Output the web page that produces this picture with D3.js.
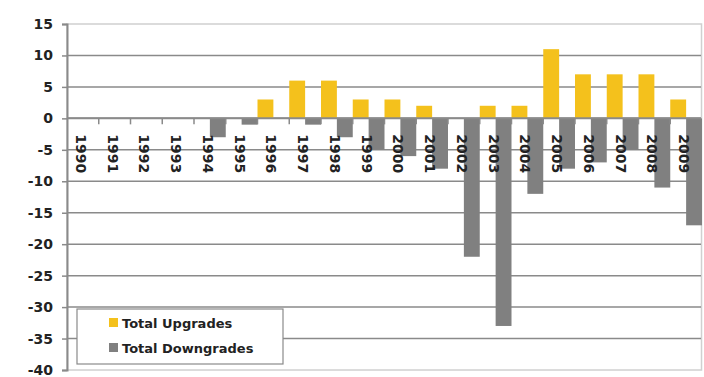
<!DOCTYPE html>
<html><head><meta charset="utf-8">
<script src="https://cdn.jsdelivr.net/npm/d3@7"></script>
<style>body{margin:0;background:#fff;} svg{display:block;}</style>
</head><body>
<script>
const years = ["1990","1991","1992","1993","1994","1995","1996","1997","1998","1999","2000","2001","2002","2003","2004","2005","2006","2007","2008","2009"];
const upgrades   = [0,0,0,0,0,0,3,6,6,3,3,2,0,2,2,11,7,7,7,3];
const downgrades = [0,0,0,0,-3,-1,0,-1,-3,-5,-6,-8,-22,-33,-12,-8,-7,-5,-11,-17];
const seriesNames = ["Total Upgrades","Total Downgrades"];
const seriesColors = ["#F4C11C","#808080"];
const yTicks = [15,10,5,0,-5,-10,-15,-20,-25,-30,-35,-40];

const W = 704, H = 377;
const m = {left:67, right:2, top:24, bottom:7};
const svg = d3.select("body").append("svg").attr("width",W).attr("height",H);
const FONT = "'DejaVu Sans', Verdana, sans-serif";

const x = d3.scaleBand().domain(years).range([m.left, W-m.right]).paddingInner(0).paddingOuter(0);
const xs = d3.scaleBand().domain(seriesNames).range([0, x.bandwidth()]).padding(0);
const y = d3.scaleLinear().domain([-40,15]).range([H-m.bottom, m.top]);

// plot frame
svg.append("rect").attr("x",m.left).attr("y",y(15)).attr("width",W-m.right-m.left-0.5).attr("height",y(-40)-y(15))
  .attr("fill","none").attr("stroke","#d0d0d0").attr("stroke-width",1.5);

// gridlines
svg.append("g").selectAll("line").data(yTicks.filter(t=>t<15 && t>-40)).join("line")
  .attr("x1",m.left).attr("x2",W-m.right-1).attr("y1",d=>y(d)).attr("y2",d=>y(d))
  .attr("stroke","#8a8a8a").attr("stroke-width",1.5);

// bars
const data = years.map((yr,i)=>({yr, vals:[upgrades[i], downgrades[i]]}));
const g = svg.append("g");
data.forEach(d=>{
  d.vals.forEach((v,k)=>{
    if(v===0) return;
    g.append("rect")
      .attr("x", x(d.yr)+xs(seriesNames[k]))
      .attr("width", xs.bandwidth())
      .attr("y", y(Math.max(0,v)))
      .attr("height", Math.abs(y(v)-y(0)))
      .attr("fill", seriesColors[k]);
  });
});

// y axis
const yAxis = d3.axisLeft(y).tickValues(yTicks).tickSize(5).tickFormat(d=>d<0?"-"+Math.abs(d):d);
const ya = svg.append("g").attr("transform",`translate(${m.left},0)`).call(yAxis);
ya.select(".domain").attr("stroke","#8a8a8a").attr("stroke-width",2);
ya.selectAll(".tick line").attr("stroke","#8a8a8a").attr("stroke-width",1.5);
ya.selectAll(".tick text").attr("font-family",FONT).attr("font-weight","bold").attr("font-size",14)
  .attr("fill","#222").attr("x",-14);

// x axis at zero
const xa = svg.append("g").attr("transform",`translate(0,${y(0)})`);
xa.append("line").attr("x1",m.left).attr("x2",W-m.right-1).attr("stroke","#8a8a8a").attr("stroke-width",2);
xa.selectAll("line.tk").data(years.slice(1)).join("line").attr("class","tk")
  .attr("x1",d=>x(d)).attr("x2",d=>x(d)).attr("y1",0).attr("y2",6)
  .attr("stroke","#8a8a8a").attr("stroke-width",1.5);
xa.selectAll("text").data(years).join("text")
  .attr("transform",d=>`translate(${x(d)+x.bandwidth()/2-2},${16}) rotate(90)`)
  .attr("dy","0.35em").attr("text-anchor","start")
  .attr("font-family",FONT).attr("font-weight","bold").attr("font-size",14).attr("fill","#222")
  .text(d=>d);

// legend
const lg = svg.append("g").attr("transform","translate(77,309)");
lg.append("rect").attr("width",206).attr("height",55).attr("fill","#fff").attr("stroke","#8a8a8a").attr("stroke-width",1.2);
seriesNames.forEach((s,i)=>{
  const yy = 14 + i*25;
  lg.append("rect").attr("x",32).attr("y",yy-5).attr("width",9).attr("height",9).attr("fill",seriesColors[i]);
  lg.append("text").attr("x",45).attr("y",yy).attr("dy","0.35em")
    .attr("font-family",FONT).attr("font-weight","bold").attr("font-size",13).attr("fill","#222").text(s);
});
</script>
</body></html>
